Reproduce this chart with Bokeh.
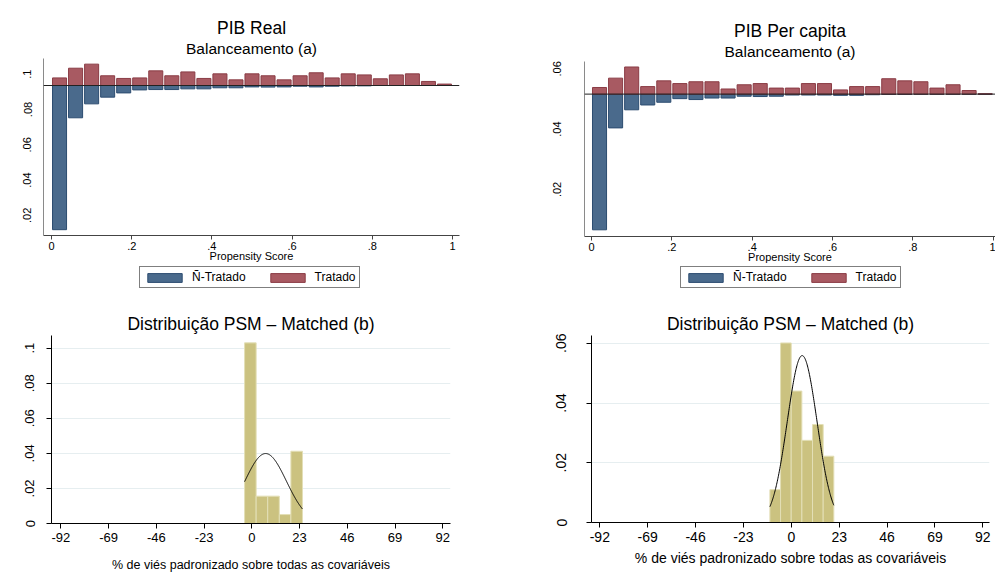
import numpy as np
from bokeh.plotting import figure
from bokeh.layouts import column, row
from bokeh.models import Range1d, FixedTicker, Span, Title, Legend, LegendItem
from bokeh.embed import file_html
from bokeh.resources import INLINE

# ---------------- data ----------------
# propensity-score bins (centres), width 0.04
ps_centers = [0.02, 0.06, 0.10, 0.14, 0.18, 0.22, 0.26, 0.30, 0.34, 0.38,
              0.42, 0.46, 0.50, 0.54, 0.58, 0.62, 0.66, 0.70, 0.74, 0.78,
              0.82, 0.86, 0.90, 0.94, 0.98]
ps_ticks = [0, 0.2, 0.4, 0.6, 0.8, 1]
ps_tick_labels = ["0", ".2", ".4", ".6", ".8", "1"]

# PIB Real: heights above (Tratado) / below (N-Tratado) the reference line
real_baseline = 0.0936
real_tratado = [0.0043, 0.0098, 0.0121, 0.0055, 0.0040, 0.0043, 0.0083, 0.0055,
                0.0077, 0.0040, 0.0066, 0.0032, 0.0066, 0.0055, 0.0032, 0.0055,
                0.0072, 0.0043, 0.0066, 0.0060, 0.0038, 0.0060, 0.0066, 0.0023,
                0.0008]
real_ntratado = [0.0817, 0.0183, 0.0104, 0.0066, 0.0042, 0.0025, 0.0023, 0.0023,
                 0.0019, 0.0019, 0.0013, 0.0013, 0.0008, 0.0009, 0.0008, 0.0004,
                 0.0008, 0.0004, 0.0002, 0.0002, 0.0, 0.0, 0.0, 0.0, 0.0]
real_yticks = [0.02, 0.04, 0.06, 0.08, 0.1]
real_ytick_labels = [".02", ".04", ".06", ".08", ".1"]

# PIB Per capita
pc_baseline = 0.0516
pc_tratado = [0.0022, 0.0053, 0.0090, 0.0025, 0.0044, 0.0035, 0.0041, 0.0041,
              0.0017, 0.0031, 0.0035, 0.0020, 0.0020, 0.0035, 0.0035, 0.0014,
              0.0025, 0.0025, 0.0051, 0.0044, 0.0041, 0.0020, 0.0031, 0.0012,
              0.0001]
pc_ntratado = [0.0450, 0.0112, 0.0052, 0.0036, 0.0027, 0.0015, 0.0018, 0.0013,
               0.0013, 0.0007, 0.0008, 0.0007, 0.0003, 0.0003, 0.0003, 0.0004,
               0.0004, 0.0002, 0.0001, 0.0001, 0.0, 0.0, 0.0, 0.0, 0.0]
pc_yticks = [0.02, 0.04, 0.06]
pc_ytick_labels = [".02", ".04", ".06"]

# standardized bias histograms (matched)
bias_ticks = [-92, -69, -46, -23, 0, 23, 46, 69, 92]
real_bias_left = [-3.5, 2.08, 7.66, 13.24, 18.82]
real_bias_width = 5.58
real_bias_density = [0.103, 0.0156, 0.0156, 0.0051, 0.0412]
real_bias_mean, real_bias_sd = 6.65, 10.0
real_bias_yticks = [0, 0.02, 0.04, 0.06, 0.08, 0.1]
real_bias_ytick_labels = ["0", ".02", ".04", ".06", ".08", ".1"]

pc_bias_left = [-10.3, -5.18, -0.06, 5.06, 10.18, 15.30]
pc_bias_width = 5.12
pc_bias_density = [0.0110, 0.0601, 0.0440, 0.0275, 0.0328, 0.0222]
pc_bias_mean, pc_bias_sd = 5.2, 7.14
pc_bias_yticks = [0, 0.02, 0.04, 0.06]
pc_bias_ytick_labels = ["0", ".02", ".04", ".06"]

legend_labels = ["Ñ-Tratado", "Tratado"]

FONT = "Liberation Sans"
BLUE, BLUE_LINE = "#4a6a8c", "#2c4c70"
RED, RED_LINE = "#a85a62", "#8a3c45"
KHAKI, KHAKI_LINE = "#cbc280", "#e3dfb6"


def base_fig(fw, fh, mbl, mbr, mbt, mbb, xr, yr):
    p = figure(frame_width=fw, frame_height=fh, title=None,
               min_border_left=mbl, min_border_right=mbr,
               min_border_top=mbt, min_border_bottom=mbb,
               x_range=Range1d(*xr), y_range=Range1d(*yr),
               output_backend="svg", toolbar_location=None)
    p.outline_line_color = None
    p.background_fill_color = "white"
    p.border_fill_color = "white"
    return p


def add_title(p, text, size, standoff):
    p.add_layout(Title(text=text, align="center", text_font=FONT,
                       text_font_size=size, text_font_style="normal",
                       text_color="black", standoff=standoff), "above")


def style_axis(ax, ticks, labels, size, tick_out, color):
    ax.ticker = FixedTicker(ticks=ticks)
    ax.major_label_overrides = dict(zip(ticks, labels))
    ax.major_tick_out = tick_out
    ax.major_tick_in = 0
    ax.minor_tick_line_color = None
    ax.axis_line_color = color
    ax.major_tick_line_color = color if tick_out > 0 else None
    ax.major_label_text_font = FONT
    ax.major_label_text_font_size = size
    ax.major_label_text_color = "black"


def axis_label(ax, text, size, standoff):
    ax.axis_label = text
    ax.axis_label_text_font = FONT
    ax.axis_label_text_font_size = size
    ax.axis_label_text_font_style = "normal"
    ax.axis_label_text_color = "black"
    ax.axis_label_standoff = standoff


def mirror_panel(title, tratado, ntratado, baseline, yticks, ylabels, geo, xr, yr,
                 ystandoff):
    fw, fh, mbl, mbr, mbt, mbb = geo
    p = base_fig(fw, fh, mbl, mbr, mbt, mbb, xr, yr)
    p.grid.visible = False
    top_t = [baseline + v for v in tratado]
    bot_n = [baseline - v for v in ntratado]
    p.vbar(x=ps_centers, width=0.035, bottom=bot_n, top=baseline,
           fill_color=BLUE, line_color=BLUE_LINE, line_width=1)
    p.vbar(x=ps_centers, width=0.035, bottom=baseline, top=top_t,
           fill_color=RED, line_color=RED_LINE, line_width=1)
    p.add_layout(Span(location=baseline, dimension="width", line_color="#222222",
                      line_width=1))
    xa = p.xaxis[0]
    style_axis(xa, ps_ticks, ps_tick_labels, "11px", 4, "#444444")
    xa.major_label_standoff = 2
    axis_label(xa, "Propensity Score", "11px", -3)
    ya = p.yaxis[0]
    style_axis(ya, yticks, ylabels, "11px", 0, "#8a8a8a")
    ya.major_label_orientation = "vertical"
    ya.major_label_standoff = ystandoff
    add_title(p, "Balanceamento (a)", "15.5px", 4)
    add_title(p, title, "17.5px", -4)
    return p


def legend_strip(width, height, loc):
    # the strip's frame is aligned with the plot above it; its legend proxies
    # (one bar each, outside the strip's view) only supply the swatch styles
    s = figure(width=width, height=height, title=None,
               min_border_left=0, min_border_right=0,
               min_border_top=0, min_border_bottom=0,
               x_range=Range1d(0, 1), y_range=Range1d(0, 1),
               output_backend="svg", toolbar_location=None)
    s.axis.visible = False
    s.grid.visible = False
    s.outline_line_color = None
    s.background_fill_color = "white"
    s.border_fill_color = "white"
    rn = s.vbar(x=[-5], bottom=[-5], top=[-4], width=0.1,
                fill_color=BLUE, line_color=BLUE_LINE, line_width=1)
    rt = s.vbar(x=[-5], bottom=[-5], top=[-4], width=0.1,
                fill_color=RED, line_color=RED_LINE, line_width=1)
    leg = Legend(items=[LegendItem(label=legend_labels[0], renderers=[rn]),
                        LegendItem(label=legend_labels[1], renderers=[rt])],
                 location=loc, orientation="horizontal",
                 border_line_color="black", border_line_width=1,
                 background_fill_color="white", background_fill_alpha=1.0,
                 padding=3, spacing=20, label_standoff=6, margin=0,
                 glyph_width=43, glyph_height=11, label_height=11,
                 label_text_font=FONT, label_text_font_size="12px",
                 label_text_color="black")
    s.add_layout(leg)
    return s


def bias_panel(left, width, dens, mean, sd, yticks, ylabels, geo, xr, yr,
               tick_size, xlab_size, xlab_standoff, ystandoff):
    fw, fh, mbl, mbr, mbt, mbb = geo
    p = base_fig(fw, fh, mbl, mbr, mbt, mbb, xr, yr)
    p.xgrid.visible = False
    p.ygrid.ticker = FixedTicker(ticks=yticks[1:])
    p.ygrid.grid_line_color = "#e6eef0"
    p.ygrid.grid_line_width = 1
    rights = [l + width for l in left]
    p.quad(left=left, right=rights, bottom=0, top=dens,
           fill_color=KHAKI, line_color=KHAKI_LINE, line_width=1)
    xs = np.linspace(left[0], rights[-1], 200)
    ys = np.exp(-0.5 * ((xs - mean) / sd) ** 2) / (sd * np.sqrt(2 * np.pi))
    p.line(xs, ys, line_color="black", line_width=1)
    xa, ya = p.xaxis[0], p.yaxis[0]
    style_axis(xa, bias_ticks, [str(t) for t in bias_ticks], tick_size, 5, "black")
    style_axis(ya, yticks, ylabels, tick_size, 5, "black")
    xa.major_label_standoff = 4
    ya.major_label_orientation = "vertical"
    ya.major_label_standoff = ystandoff
    axis_label(xa, "% de viés padronizado sobre todas as covariáveis",
               xlab_size, xlab_standoff)
    add_title(p, "Distribuição PSM – Matched (b)", "17.5px", 4)
    return p


p1 = mirror_panel("PIB Real", real_tratado, real_ntratado, real_baseline,
                  real_yticks, real_ytick_labels,
                  (416, 177, 43, 41, 58, 31), (-0.02, 1.0175), (0.0086, 0.1089), 12)
p2 = mirror_panel("PIB Per capita", pc_tratado, pc_ntratado, pc_baseline,
                  pc_yticks, pc_ytick_labels,
                  (411, 175, 84, 0, 61, 30), (-0.0174, 1.0057), (0.00438, 0.06242), 23)
l1 = legend_strip(500, 34, (96, 12))
l2 = legend_strip(495, 34, (96, 12))
p3 = bias_panel(real_bias_left, real_bias_width, real_bias_density,
                real_bias_mean, real_bias_sd, real_bias_yticks, real_bias_ytick_labels,
                (399, 188, 51, 50, 35, 49), (-96.5, 95.7), (0, 0.1072),
                "13px", "12.5px", 13, 12)
p4 = bias_panel(pc_bias_left, pc_bias_width, pc_bias_density,
                pc_bias_mean, pc_bias_sd, pc_bias_yticks, pc_bias_ytick_labels,
                (398, 187, 91, 6, 35, 50), (-96.0, 95.2), (0, 0.0626),
                "14px", "14px", 5, 20)

layout = column(row(column(p1, l1), column(p2, l2)), row(p3, p4))
open("out.html", "w").write(file_html(layout, INLINE))
